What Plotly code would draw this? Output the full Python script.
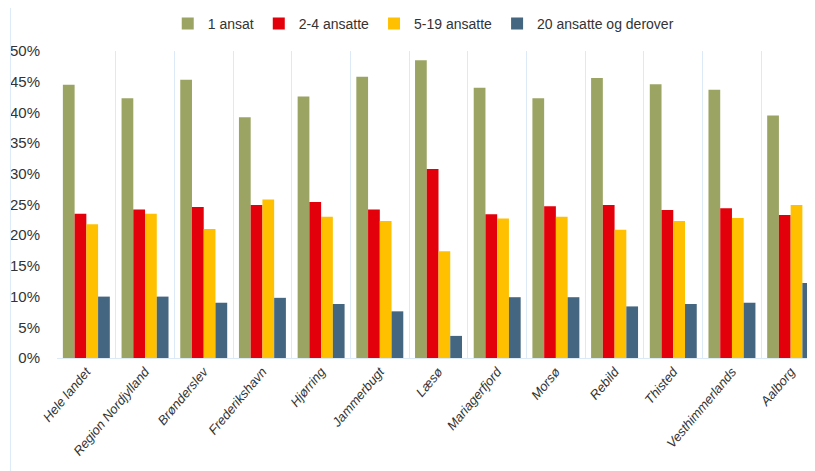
import plotly.graph_objects as go

categories = ["Hele landet", "Region Nordjylland", "Brønderslev", "Frederikshavn", "Hjørring",
              "Jammerbugt", "Læsø", "Mariagerfjord", "Morsø", "Rebild", "Thisted",
              "Vesthimmerlands", "Aalborg"]
series_names = ["1 ansat", "2-4 ansatte", "5-19 ansatte", "20 ansatte og derover"]
ansat_1 = [44.5, 42.3, 45.3, 39.2, 42.6, 45.8, 48.5, 44.0, 42.3, 45.6, 44.6, 43.7, 39.5]
ansatte_2_4 = [23.5, 24.2, 24.6, 24.9, 25.4, 24.2, 30.8, 23.4, 24.7, 24.9, 24.1, 24.4, 23.3]
ansatte_5_19 = [21.8, 23.5, 21.0, 25.8, 23.0, 22.3, 17.4, 22.7, 23.0, 20.9, 22.3, 22.8, 24.9]
ansatte_20 = [10.0, 10.0, 9.0, 9.8, 8.8, 7.6, 3.6, 9.9, 9.9, 8.4, 8.8, 9.0, 12.2]
y_ticks = [0, 5, 10, 15, 20, 25, 30, 35, 40, 45, 50]
y_tick_labels = [f"{v}%" for v in y_ticks]

colors = ["#9CA464", "#E3000B", "#FFC000", "#446680"]
font_family = "Liberation Sans Narrow, Arial Narrow, Liberation Sans, Arial"

fig = go.Figure()
for name, vals, col in zip(series_names, [ansat_1, ansatte_2_4, ansatte_5_19, ansatte_20], colors):
    fig.add_trace(go.Bar(x=categories, y=vals, name=name, marker=dict(color=col, line=dict(width=0))))

fig.update_layout(
    width=815, height=471,
    barmode="group", bargap=0.2, bargroupgap=0,
    plot_bgcolor="white", paper_bgcolor="white",
    margin=dict(l=49, r=3, t=43, b=121, autoexpand=False),
    font=dict(family=font_family, size=14, color="#333333"),
    legend=dict(orientation="h", x=0.48, xanchor="center", y=1.088, yanchor="middle",
                font=dict(size=14, family=font_family), itemwidth=30, traceorder="normal"),
    xaxis=dict(range=[-0.5, 12.5], showgrid=True, gridcolor="#DCEAF8", gridwidth=1,
               tickson="boundaries", ticks="", showline=True, linecolor="#DCEAF8",
               automargin=False,
               tickangle=-50, tickfont=dict(size=13, family=font_family, style="italic")),
    yaxis=dict(range=[0, 50], tickvals=y_ticks, ticktext=y_tick_labels, showgrid=False,
               zeroline=False, showline=False, ticks="outside", ticklen=13, tickcolor="rgba(0,0,0,0)",
               automargin=False,
               tickfont=dict(size=15, family=font_family)),
)
fig.add_shape(type="line", xref="paper", yref="paper", x0=-0.061, x1=-0.061, y0=-0.4, y1=1.2,
              line=dict(color="#DCEAF8", width=1))
fig.write_html("out.html")
